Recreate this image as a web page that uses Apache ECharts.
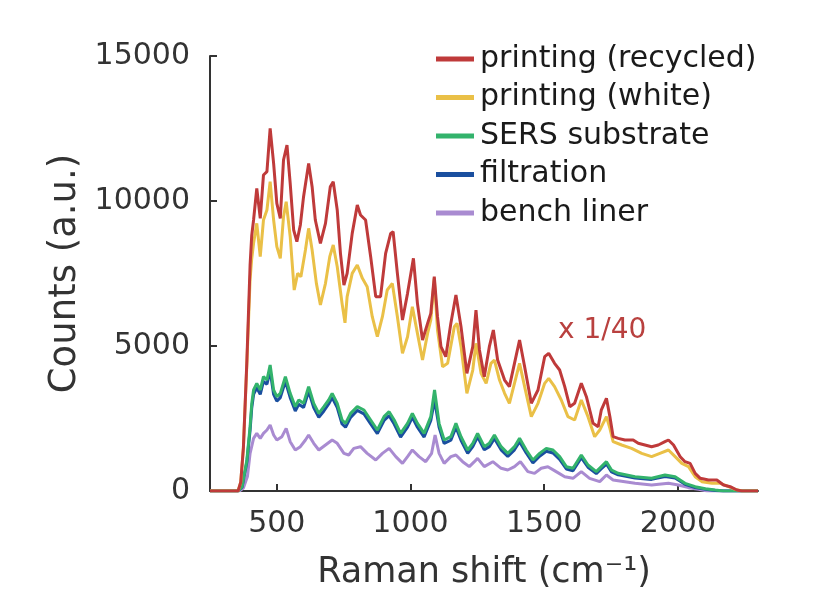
<!DOCTYPE html>
<html>
<head>
<meta charset="utf-8">
<script src="https://cdn.jsdelivr.net/npm/echarts@6/dist/echarts.min.js"></script>
<style>html,body{margin:0;padding:0;background:#fff}#c{width:816px;height:592px}</style>
</head>
<body>
<div id="c"></div>
<script>
const seriesNames = ['printing (recycled)', 'printing (white)', 'SERS substrate', 'filtration', 'bench liner'];
const xTicks = [500, 1000, 1500, 2000];

const recycled = [[250,0],[355,0],[365,300],[375,1500],[388,4500],[400,7800],[406,8800],[413,9344],[425,10436],[438,9402],[450,10896],[463,11010],[475,12505],[488,11298],[500,9919],[513,9402],[525,11413],[538,11930],[550,10608],[563,9000],[575,8597],[588,9172],[600,10149],[619,11298],[632,10493],[644,9344],[663,8540],[682,9229],[700,10493],[711,10666],[726,9689],[738,8195],[751,7100],[763,7505],[782,8884],[801,9861],[813,9516],[832,9344],[851,8080],[870,6701],[888,6701],[907,8195],[926,8884],[935,8942],[951,7505],[970,5896],[989,6815],[1011,8022],[1026,6470],[1045,5206],[1064,5781],[1076,6126],[1089,7390],[1101,6011],[1114,4977],[1132,4632],[1151,5781],[1170,6758],[1189,5666],[1211,4057],[1233,4977],[1245,6241],[1258,4862],[1276,3942],[1295,4977],[1310,5551],[1326,4517],[1352,3827],[1370,3597],[1389,4402],[1408,5206],[1427,4287],[1452,3023],[1477,3483],[1502,4632],[1517,4747],[1539,4402],[1558,4172],[1577,3597],[1596,2908],[1614,3023],[1639,3713],[1658,3253],[1683,2334],[1702,2218],[1714,2800],[1733,3195],[1746,2563],[1758,1873],[1777,1816],[1802,1758],[1833,1758],[1852,1644],[1877,1586],[1902,1528],[1927,1586],[1952,1701],[1965,1758],[1984,1586],[2009,1184],[2027,1011],[2046,954],[2065,609],[2084,437],[2115,379],[2146,379],[2171,207],[2196,149],[2221,34],[2240,0],[2300,0]];

const white = [[250,0],[355,0],[365,300],[375,1500],[388,4400],[400,7300],[406,8000],[413,8540],[425,9229],[438,8080],[450,9344],[463,9689],[475,10666],[488,9344],[500,8425],[513,8022],[525,9459],[535,9976],[550,8770],[565,6930],[578,7505],[590,7390],[607,8310],[619,9057],[632,8310],[648,7160],[663,6413],[682,7160],[698,8080],[711,8482],[726,7735],[744,6470],[755,5800],[763,6701],[782,7505],[801,7792],[820,7333],[838,7045],[857,6011],[876,5321],[895,6011],[913,6930],[932,7160],[951,6011],[970,4747],[989,5321],[1007,6356],[1026,5436],[1045,4517],[1064,5436],[1076,5896],[1089,7333],[1101,5551],[1120,4287],[1139,4402],[1164,5666],[1174,5781],[1189,4977],[1211,3368],[1233,4172],[1245,5092],[1264,4057],[1283,3713],[1301,4402],[1314,4517],[1333,3827],[1352,3368],[1370,3023],[1389,3713],[1408,4402],[1427,3597],[1452,2563],[1477,3023],[1502,3713],[1517,3885],[1539,3597],[1564,3138],[1589,2563],[1614,2448],[1639,3138],[1664,2563],[1689,1873],[1708,2103],[1733,2563],[1746,2161],[1758,1701],[1790,1586],[1827,1471],[1865,1299],[1902,1184],[1933,1299],[1965,1414],[1990,1184],[2015,954],[2040,839],[2065,494],[2090,322],[2128,264],[2159,264],[2190,149],[2215,57],[2240,0],[2300,0]];

const sers = [[250,0],[355,0],[370,150],[388,1069],[400,2218],[406,3000],[413,3483],[425,3712],[438,3483],[450,3942],[463,3827],[475,4344],[488,3483],[500,3253],[513,3368],[532,3942],[550,3368],[569,2908],[582,3138],[600,3023],[619,3598],[638,3023],[657,2678],[676,2908],[694,3138],[707,3368],[726,3023],[744,2448],[757,2334],[776,2678],[801,2908],[826,2793],[851,2448],[876,2103],[901,2563],[920,2736],[939,2448],[963,1988],[989,2334],[1007,2678],[1026,2334],[1051,1988],[1076,2563],[1090,3483],[1107,2334],[1126,1758],[1151,1873],[1170,2334],[1189,1873],[1214,1414],[1233,1644],[1251,1988],[1276,1528],[1295,1644],[1314,1931],[1339,1528],[1364,1299],[1389,1528],[1408,1816],[1433,1414],[1458,1069],[1483,1299],[1508,1471],[1533,1414],[1558,1184],[1583,839],[1608,782],[1639,1241],[1664,897],[1695,667],[1714,839],[1733,1011],[1752,724],[1777,609],[1840,494],[1902,437],[1952,552],[1990,494],[2027,264],[2065,149],[2103,80],[2140,34],[2170,0],[2300,0]];

const filtration = [[250,0],[355,0],[370,130],[388,1000],[400,2100],[406,2850],[413,3330],[425,3560],[438,3330],[450,3780],[463,3680],[475,4150],[488,3330],[500,3100],[513,3220],[532,3780],[550,3220],[569,2760],[582,2990],[600,2880],[619,3440],[638,2880],[657,2540],[676,2760],[694,3000],[707,3220],[726,2880],[744,2310],[757,2200],[776,2540],[801,2780],[826,2660],[851,2310],[876,1980],[901,2430],[920,2600],[939,2310],[963,1860],[989,2200],[1007,2540],[1026,2200],[1051,1860],[1076,2430],[1090,3140],[1107,2200],[1126,1640],[1151,1750],[1170,2200],[1189,1750],[1214,1300],[1233,1530],[1251,1870],[1276,1420],[1295,1530],[1314,1810],[1339,1420],[1364,1190],[1389,1420],[1408,1700],[1433,1310],[1458,970],[1483,1200],[1508,1370],[1533,1310],[1558,1090],[1583,760],[1608,700],[1639,1150],[1664,820],[1695,600],[1714,770],[1733,930],[1752,660],[1777,560],[1840,450],[1902,400],[1952,500],[1990,450],[2027,230],[2065,120],[2103,60],[2140,20],[2170,0],[2300,0]];

const bench = [[250,0],[360,0],[375,100],[390,500],[400,1299],[413,1816],[425,1988],[438,1816],[450,1988],[463,2103],[475,2276],[488,1931],[500,1758],[519,1873],[535,2161],[550,1701],[569,1414],[588,1528],[607,1758],[619,1931],[638,1644],[657,1414],[682,1586],[707,1758],[726,1644],[751,1299],[769,1241],[788,1471],[813,1528],[838,1299],[870,1069],[895,1299],[920,1471],[945,1184],[970,954],[989,1184],[1007,1414],[1032,1184],[1057,1011],[1079,1299],[1092,1931],[1107,1299],[1126,954],[1151,1184],[1170,1241],[1195,1011],[1220,839],[1239,1011],[1251,1126],[1276,839],[1308,1011],[1339,782],[1364,724],[1389,839],[1411,1011],[1439,667],[1464,609],[1489,782],[1514,839],[1545,667],[1577,494],[1608,437],[1639,667],[1670,437],[1708,322],[1733,552],[1758,379],[1840,264],[1902,207],[1965,264],[2002,207],[2040,115],[2078,57],[2110,0],[2300,0]];

const colors = ['#bf3a3a', '#eac047', '#33b36c', '#1a4f9f', '#a98bd1'];
const dataSets = [recycled, white, sers, filtration, bench];
const FONT = 'DejaVu Sans';

const chart = echarts.init(document.getElementById('c'), null, {renderer: 'canvas'});
const drawOrder = [4, 3, 2, 1, 0];
chart.setOption({
  animation: false,
  backgroundColor: '#fff',
  color: colors,
  grid: {left: 210, right: 58, top: 56, bottom: 101, containLabel: false, outerBoundsMode: 'none'},
  legend: {
    orient: 'vertical', left: 431, top: 39,
    itemWidth: 38, itemHeight: 5, itemGap: 8.5, icon: 'rect',
    data: seriesNames,
    textStyle: {fontFamily: FONT, fontSize: 30, color: '#1a1a1a', lineHeight: 30, padding: [0, 0, 0, 1]}
  },
  xAxis: {
    type: 'value', min: 250, max: 2300,
    name: 'Raman shift (cm⁻¹)', nameLocation: 'middle', nameGap: 64,
    nameTextStyle: {fontFamily: FONT, fontSize: 35, color: '#333'},
    axisLine: {show: true, lineStyle: {color: '#333', width: 2}},
    axisTick: {show: true, inside: true, length: 7, lineStyle: {color: '#333', width: 2}, customValues: xTicks},
    axisLabel: {fontFamily: FONT, fontSize: 30, color: '#333', margin: 18, customValues: xTicks, formatter: v => String(v)},
    splitLine: {show: false}
  },
  yAxis: {
    type: 'value', min: 0, max: 15000, interval: 5000,
    name: 'Counts (a.u.)', nameLocation: 'middle', nameGap: 122,
    nameTextStyle: {fontFamily: FONT, fontSize: 37, color: '#333'},
    axisLine: {show: true, lineStyle: {color: '#333', width: 2}},
    axisTick: {show: true, inside: true, length: 7, lineStyle: {color: '#333', width: 2}},
    axisLabel: {fontFamily: FONT, fontSize: 30, color: '#333', margin: 20, formatter: v => String(v)},
    splitLine: {show: false}
  },
  graphic: [{
    type: 'text', left: 558, top: 317,
    style: {text: 'x 1/40', fontFamily: FONT, fontSize: 28, fill: '#b9413f'}
  }],
  series: drawOrder.map(i => ({
    name: seriesNames[i], type: 'line', data: dataSets[i], showSymbol: false, symbol: 'none',
    lineStyle: {width: 3, color: colors[i]}, itemStyle: {color: colors[i]}, z: 10 - i
  }))
});
</script>
</body>
</html>
